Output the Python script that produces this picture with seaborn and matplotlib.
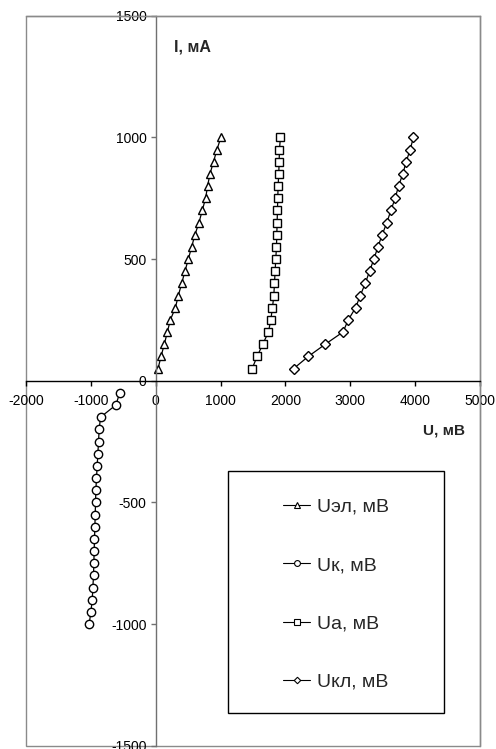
import matplotlib
matplotlib.use("Agg")
import matplotlib.pyplot as plt
import matplotlib.patches as mpatches
from matplotlib.lines import Line2D
import numpy as np
import pandas as pd
import seaborn as sns

# ---- data ----
I_pos = [50, 100, 150, 200, 250, 300, 350, 400, 450, 500,
         550, 600, 650, 700, 750, 800, 850, 900, 950, 1000]
I_neg = [-50, -100, -150, -200, -250, -300, -350, -400, -450, -500,
         -550, -600, -650, -700, -750, -800, -850, -900, -950, -1000]

U_el = [36, 82, 133, 179, 226, 303, 349, 400, 451, 503,
        554, 605, 667, 718, 769, 800, 836, 892, 944, 1005]
U_k = [-554, -615, -851, -872, -882, -892, -903, -913, -923, -928,
       -933, -938, -944, -949, -954, -959, -969, -979, -1000, -1026]
U_a = [1487, 1564, 1651, 1738, 1774, 1800, 1821, 1831, 1841, 1851,
       1862, 1867, 1872, 1877, 1882, 1887, 1897, 1903, 1908, 1923]
U_kl = [2128, 2354, 2615, 2887, 2969, 3082, 3154, 3231, 3297, 3364,
        3426, 3492, 3564, 3626, 3692, 3744, 3810, 3862, 3923, 3974]

labels = ["Uэл, мВ", "Uк, мВ", "Ua, мВ", "Uкл, мВ"]
x_ticks = [-2000, -1000, 0, 1000, 2000, 3000, 4000, 5000]
y_ticks = [-1500, -1000, -500, 0, 500, 1000, 1500]

sns.set_theme(style="white")
plt.rcParams["font.family"] = ["Liberation Sans", "DejaVu Sans"]

W, H = 496, 749
fig = plt.figure(figsize=(W / 100, H / 100), dpi=100)
ax = fig.add_axes([26 / W, 3.3 / H, 454 / W, 730 / H])

series = [
    (U_el, I_pos, "^", 6.4),
    (U_k, I_neg, "o", 6.0),
    (U_a, I_pos, "s", 5.6),
    (U_kl, I_pos, "D", 4.7),
]
for (u, i, m, ms), lab in zip(series, labels):
    df = pd.DataFrame({"U": u, "I": i})
    sns.lineplot(data=df, x="U", y="I", sort=False, estimator=None, ax=ax,
                 color="black", linewidth=0.9, marker=m, markersize=ms,
                 markerfacecolor="white", markeredgecolor="black",
                 markeredgewidth=1.0, legend=False)

ax.set_xlim(-2000, 5000)
ax.set_ylim(-1500, 1500)
ax.set_xticks(x_ticks)
ax.set_yticks(y_ticks)
ax.set_xticklabels([str(v) for v in x_ticks])
ax.set_yticklabels([str(v) for v in y_ticks])
ax.set_xlabel("")
ax.set_ylabel("")

ax.spines["left"].set_position(("data", 0))
ax.spines["bottom"].set_position(("data", 0))
ax.spines["left"].set_color("#707070")
ax.spines["bottom"].set_color("black")
ax.spines["left"].set_linewidth(1.0)
ax.spines["bottom"].set_linewidth(1.0)
for s in ("top", "right"):
    ax.spines[s].set_color("#8a8a8a")
    ax.spines[s].set_linewidth(1.0)

# plot-area frame (left & bottom edges)
ax.add_patch(mpatches.Rectangle((0, 0), 1, 1, transform=ax.transAxes,
                                fill=False, edgecolor="#8a8a8a",
                                linewidth=1.0, clip_on=False, zorder=0))

ax.tick_params(axis="x", direction="out", length=3.5, width=1.0,
               color="black", labelsize=10, pad=6, bottom=True)
ax.tick_params(axis="y", direction="out", length=3.5, width=1.0,
               color="#707070", labelsize=10, pad=3, left=True)
for t in ax.get_xticklabels() + ax.get_yticklabels():
    t.set_color("black")

fig.text(174 / W, 1 - 46.7 / H, "I, мА", fontsize=11.5, fontweight="bold",
         ha="left", va="center")
fig.text(422.7 / W, 1 - 430.7 / H, "U, мВ", fontsize=11, fontweight="bold",
         ha="left", va="center")

# legend
lx0, lx1, ly0, ly1 = 228.3, 444, 470.7, 712.7
fig.patches.append(mpatches.Rectangle((lx0 / W, 1 - ly1 / H),
                                      (lx1 - lx0) / W, (ly1 - ly0) / H,
                                      transform=fig.transFigure, fill=False,
                                      edgecolor="black", linewidth=1.0))
handles = [Line2D([0], [0], color="black", linewidth=0.8, marker=m,
                  markersize=ms * 0.7, markerfacecolor="white",
                  markeredgecolor="black", markeredgewidth=0.8)
           for (_, _, m, ms) in series]
fig.legend(handles, labels, loc="center",
           bbox_to_anchor=((lx0 + lx1) / 2 / W, 1 - 594.5 / H),
           frameon=False, fontsize=14, labelspacing=2.1,
           handlelength=1.4, handletextpad=0.35)

fig.savefig("out.png", dpi=100)
